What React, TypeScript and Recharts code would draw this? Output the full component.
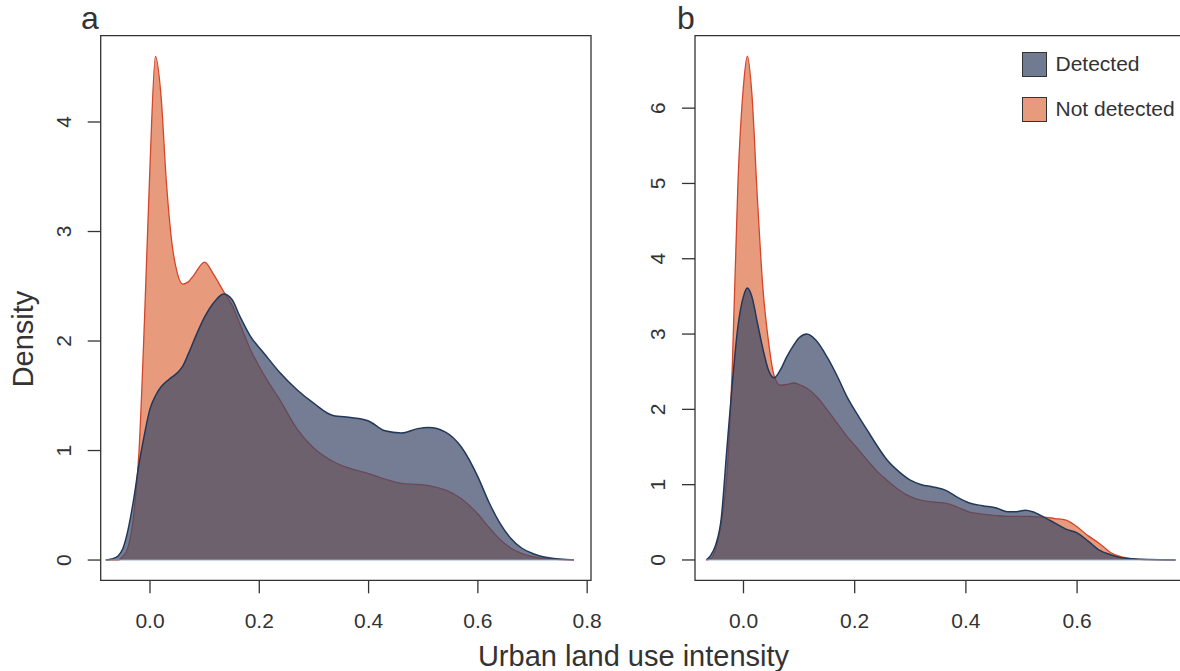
import { Area, ComposedChart, ReferenceArea, ReferenceLine, XAxis, YAxis } from 'recharts'

// panel a
const xA = [
  -0.081, -0.07, -0.058, -0.05, -0.04, -0.03, -0.02, -0.01, 0, 0.01, 0.02, 0.03, 0.04, 0.05, 0.06,
  0.07, 0.08, 0.1, 0.115, 0.135, 0.15, 0.165, 0.183, 0.21, 0.238, 0.27, 0.3, 0.335, 0.37, 0.4,
  0.43, 0.46, 0.49, 0.51, 0.54, 0.57, 0.6, 0.62, 0.64, 0.66, 0.68, 0.7, 0.73, 0.776,
]
const detectedA = [
  0, 0.01, 0.04, 0.1, 0.28, 0.55, 0.88, 1.15, 1.38, 1.5, 1.58, 1.63, 1.67, 1.71, 1.77, 1.88, 2.0,
  2.22, 2.34, 2.43, 2.38, 2.22, 2.05, 1.88, 1.71, 1.55, 1.43, 1.32, 1.3, 1.27, 1.18, 1.16, 1.2,
  1.21, 1.17, 1.03, 0.76, 0.53, 0.34, 0.2, 0.11, 0.06, 0.02, 0,
]
const notDetectedA = [
  0, 0, 0, 0.03, 0.12, 0.4, 1.0, 2.2, 3.6, 4.6, 4.25, 3.45, 2.9, 2.62, 2.52, 2.54, 2.6, 2.72, 2.62,
  2.45, 2.33, 2.15, 1.93, 1.68, 1.46, 1.19, 1.02, 0.9, 0.83, 0.79, 0.74, 0.7, 0.69, 0.68, 0.64,
  0.56, 0.42, 0.3, 0.19, 0.11, 0.06, 0.03, 0.01, 0,
]

// panel b
const xB = [
  -0.067, -0.06, -0.05, -0.04, -0.03, -0.02, -0.01, 0, 0.007, 0.015, 0.025, 0.035, 0.045, 0.055,
  0.066, 0.078, 0.09, 0.1, 0.114, 0.13, 0.15, 0.17, 0.186, 0.205, 0.222, 0.24, 0.258, 0.28, 0.3,
  0.32, 0.341, 0.365, 0.385, 0.405, 0.43, 0.455, 0.475, 0.49, 0.507, 0.52, 0.54, 0.56, 0.58, 0.6,
  0.62, 0.64, 0.66, 0.68, 0.7, 0.73, 0.777,
]
const detectedB = [
  0, 0.05, 0.2, 0.55, 1.46, 2.35, 3.1, 3.5, 3.61, 3.5, 3.15, 2.8, 2.52, 2.42, 2.52, 2.7, 2.85,
  2.95, 3.0, 2.92, 2.7, 2.42, 2.17, 1.93, 1.73, 1.52, 1.33, 1.17, 1.06, 1.0, 0.97, 0.92, 0.83,
  0.76, 0.72, 0.69, 0.64, 0.64, 0.66, 0.64, 0.57, 0.49, 0.41, 0.36, 0.25, 0.13, 0.07, 0.03, 0.015,
  0.005, 0,
]
const notDetectedB = [
  0, 0.01, 0.15, 0.5, 1.1, 2.6, 5.0, 6.3, 6.69, 6.2, 4.8, 3.6, 2.9, 2.45, 2.32, 2.33, 2.35, 2.33,
  2.28, 2.18, 2.0, 1.8, 1.64, 1.48, 1.33, 1.18, 1.06, 0.93, 0.84, 0.79, 0.77, 0.75, 0.7, 0.64,
  0.61, 0.59, 0.58, 0.58, 0.58, 0.575, 0.57, 0.55, 0.53, 0.44, 0.32, 0.22, 0.1, 0.04, 0.015, 0.005,
  0,
]

const xTicksA = [0, 0.2, 0.4, 0.6, 0.8]
const yTicksA = [0, 1, 2, 3, 4]
const xTicksB = [0, 0.2, 0.4, 0.6]
const yTicksB = [0, 1, 2, 3, 4, 5, 6]

const seriesNames = ['Detected', 'Not detected']

const FONT = '"Liberation Sans", Arial, Helvetica, sans-serif'
const INK = '#333333'
const DET_FILL = '#3f4b6a'
const DET_STROKE = '#22385a'
const ND_FILL = '#e89a7c'
const ND_STROKE = '#d6452a'

function YTick(props: any) {
  const { x, y, payload } = props
  const bx = x - 17
  return (
    <text
      x={bx}
      y={y}
      transform={`rotate(-90 ${bx} ${y})`}
      textAnchor="middle"
      fontFamily={FONT}
      fontSize={21}
      fill={INK}
    >
      {payload.value}
    </text>
  )
}

function XTick(props: any) {
  const { x, y, payload } = props
  return (
    <text x={x} y={y + 35} textAnchor="middle" fontFamily={FONT} fontSize={21} fill={INK}>
      {Number(payload.value).toFixed(1)}
    </text>
  )
}

type PanelProps = {
  xs: number[]
  detected: number[]
  notDetected: number[]
  xDomain: [number, number]
  yDomain: [number, number]
  xTicks: number[]
  yTicks: number[]
  width: number
  marginLeft: number
  marginRight: number
}

function Panel({
  xs,
  detected,
  notDetected,
  xDomain,
  yDomain,
  xTicks,
  yTicks,
  width,
  marginLeft,
  marginRight,
}: PanelProps) {
  const data = xs.map((x, i) => ({ x, detected: detected[i], notDetected: notDetected[i] }))
  return (
    <ComposedChart
      width={width}
      height={671}
      data={data}
      margin={{ top: 35.7, right: marginRight, bottom: 60.7, left: marginLeft }}
      style={{ overflow: 'visible' }}
    >
      <XAxis
        type="number"
        dataKey="x"
        domain={xDomain}
        ticks={xTicks}
        allowDataOverflow
        height={30}
        axisLine={false}
        tickSize={13}
        tickMargin={0}
        tickLine={{ stroke: INK, strokeWidth: 1.3 }}
        tick={XTick}
        interval={0}
      />
      <YAxis
        type="number"
        domain={yDomain}
        ticks={yTicks}
        allowDataOverflow
        width={40}
        axisLine={false}
        tickSize={13}
        tickMargin={0}
        tickLine={{ stroke: INK, strokeWidth: 1.3 }}
        tick={YTick}
        interval={0}
      />
      <Area
        type="monotone"
        dataKey="notDetected"
        name={seriesNames[1]}
        baseValue={0}
        fill={ND_FILL}
        fillOpacity={1}
        stroke={ND_STROKE}
        strokeWidth={1.3}
        dot={false}
        activeDot={false}
        isAnimationActive={false}
      />
      <Area
        type="monotone"
        dataKey="detected"
        name={seriesNames[0]}
        baseValue={0}
        fill={DET_FILL}
        fillOpacity={0.72}
        stroke={DET_STROKE}
        strokeWidth={1.5}
        dot={false}
        activeDot={false}
        isAnimationActive={false}
      />
      <ReferenceLine
        segment={[
          { x: xs[0], y: 0 },
          { x: xs[xs.length - 1], y: 0 },
        ]}
        stroke="#9fb0c8"
        strokeWidth={1}
      />
      <ReferenceArea
        x1={xDomain[0]}
        x2={xDomain[1]}
        y1={yDomain[0]}
        y2={yDomain[1]}
        fill="none"
        fillOpacity={0}
        stroke={INK}
        strokeWidth={1.3}
      />
    </ComposedChart>
  )
}

export default function App() {
  const legendFills = [{ fill: '#707a91' }, { fill: ND_FILL }]
  return (
    <div
      style={{
        position: 'absolute',
        left: 0,
        top: 0,
        width: 1180,
        height: 671,
        overflow: 'hidden',
        background: '#fff',
        fontFamily: FONT,
      }}
    >
      <div style={{ position: 'absolute', left: 0, top: 0 }}>
        <Panel
          xs={xA}
          detected={detectedA}
          notDetected={notDetectedA}
          xDomain={[-0.0902, 0.807]}
          yDomain={[-0.185, 4.788]}
          xTicks={xTicksA}
          yTicks={yTicksA}
          width={625}
          marginLeft={60.7}
          marginRight={34}
        />
      </div>
      <div style={{ position: 'absolute', left: 600, top: 0 }}>
        <Panel
          xs={xB}
          detected={detectedB}
          notDetected={notDetectedB}
          xDomain={[-0.0872, 0.7946]}
          yDomain={[-0.27, 6.962]}
          xTicks={xTicksB}
          yTicks={yTicksB}
          width={590}
          marginLeft={55}
          marginRight={4.7}
        />
      </div>
      <svg
        width={1180}
        height={671}
        style={{ position: 'absolute', left: 0, top: 0, pointerEvents: 'none' }}
      >
        <text x={81} y={29} fontFamily={FONT} fontSize={32} fill={INK}>
          a
        </text>
        <text x={677} y={29} fontFamily={FONT} fontSize={32} fill={INK}>
          b
        </text>
        <text
          x={33}
          y={339}
          transform="rotate(-90 33 339)"
          textAnchor="middle"
          fontFamily={FONT}
          fontSize={29}
          fill={INK}
        >
          Density
        </text>
        <text x={633.5} y={666} textAnchor="middle" fontFamily={FONT} fontSize={29} fill={INK}>
          Urban land use intensity
        </text>
      </svg>
      {seriesNames.map((name, i) => (
        <div
          key={name}
          style={{
            position: 'absolute',
            left: 1021.5,
            top: 51 + i * 45,
            display: 'flex',
            alignItems: 'center',
            height: 26,
          }}
        >
          <div
            style={{
              width: 23,
              height: 23,
              background: legendFills[i].fill,
              border: `1.5px solid ${INK}`,
            }}
          />
          <span style={{ marginLeft: 9, fontSize: 21, color: INK, whiteSpace: 'nowrap' }}>
            {name}
          </span>
        </div>
      ))}
    </div>
  )
}
